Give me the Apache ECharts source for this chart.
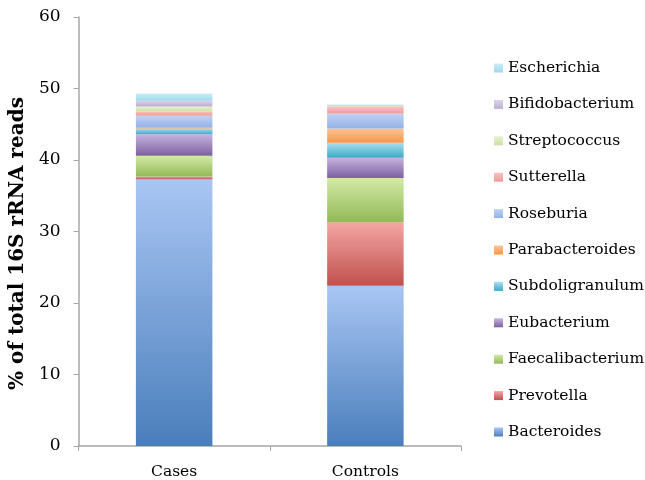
<!DOCTYPE html>
<html>
<head>
<meta charset="utf-8">
<script src="https://cdn.jsdelivr.net/npm/echarts@6/dist/echarts.min.js"></script>
<style>html,body{margin:0;padding:0;background:#fff}#c{width:645px;height:480px}</style>
</head>
<body>
<div id="c"></div>
<script>
var categories = ['Cases', 'Controls'];
var seriesNames = ['Bacteroides','Prevotella','Faecalibacterium','Eubacterium','Subdoligranulum','Parabacteroides','Roseburia','Sutterella','Streptococcus','Bifidobacterium','Escherichia'];
var Bacteroides = [37.3, 22.4];
var Prevotella = [0.4, 8.9];
var Faecalibacterium = [2.9, 6.2];
var Eubacterium = [3.0, 2.8];
var Subdoligranulum = [0.8, 2.1];
var Parabacteroides = [0.1, 2.0];
var Roseburia = [1.7, 2.1];
var Sutterella = [0.6, 1.0];
var Streptococcus = [0.7, 0.05];
var Bifidobacterium = [0.8, 0.1];
var Escherichia = [1.0, 0.1];
var yTicks = [0, 10, 20, 30, 40, 50, 60];

var values = [Bacteroides, Prevotella, Faecalibacterium, Eubacterium, Subdoligranulum, Parabacteroides, Roseburia, Sutterella, Streptococcus, Bifidobacterium, Escherichia];
var grads = [
  ['#A9C6F4', '#4A7EBB'],
  ['#F4A6A4', '#C0504D'],
  ['#D3EAA8', '#93B955'],
  ['#C6B4E0', '#7D60A0'],
  ['#A8E0F0', '#3FA8C6'],
  ['#FCC59A', '#F79646'],
  ['#BED2F4', '#94B2E6'],
  ['#F8C3C2', '#EE9A98'],
  ['#E6F2CE', '#CCE0A4'],
  ['#DDD4EB', '#BBAED3'],
  ['#CBEEF8', '#9ED8EA']
];
function grad(i) {
  return new echarts.graphic.LinearGradient(0, 0, 0, 1, [
    {offset: 0, color: grads[i][0]}, {offset: 1, color: grads[i][1]}
  ]);
}
var series = seriesNames.map(function (n, i) {
  return {
    name: n, type: 'bar', stack: 'total', barWidth: '40%',
    data: values[i],
    itemStyle: {color: grad(i)}
  };
});
var chart = echarts.init(document.getElementById('c'));
chart.setOption({
  animation: false,
  grid: {left: 77, right: 184, top: 17, bottom: 33, containLabel: false},
  legend: {
    orient: 'vertical', left: 489, top: 55,
    data: seriesNames.slice().reverse(),
    itemWidth: 9, itemHeight: 9, itemGap: 20.4,
    textStyle: {fontFamily: 'DejaVu Serif', fontSize: 15.5, color: '#000'},
    icon: 'rect'
  },
  xAxis: {
    type: 'category', data: categories,
    axisLine: {lineStyle: {color: '#A6A6A6', width: 1.5}},
    axisTick: {show: true, length: 5, lineStyle: {color: '#A6A6A6'}},
    axisLabel: {fontFamily: 'DejaVu Serif', fontSize: 15.5, color: '#000', margin: 18}
  },
  yAxis: {
    type: 'value', min: yTicks[0], max: yTicks[yTicks.length - 1], interval: 10,
    name: '% of total 16S rRNA reads', nameLocation: 'middle', nameGap: 37,
    nameTextStyle: {fontFamily: 'DejaVu Serif', fontWeight: 'bold', fontSize: 20, color: '#000', padding: [0, 24, 0, 0]},
    axisLine: {show: true, lineStyle: {color: '#A6A6A6', width: 1.5}},
    axisTick: {show: true, length: 5, lineStyle: {color: '#A6A6A6'}},
    splitLine: {show: false},
    axisLabel: {fontFamily: 'DejaVu Serif', fontSize: 17, color: '#000', margin: 18}
  },
  series: series
});
</script>
</body>
</html>
